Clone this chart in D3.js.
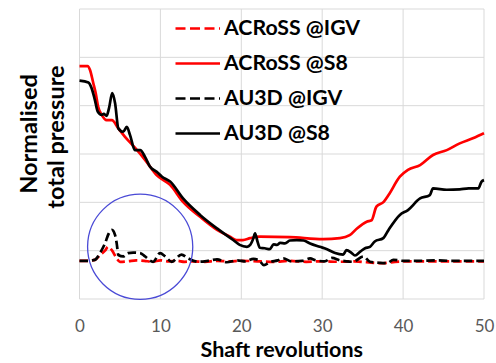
<!DOCTYPE html>
<html>
<head>
<meta charset="utf-8">
<script src="https://cdn.jsdelivr.net/npm/d3@7"></script>
<style>
  html, body { margin: 0; padding: 0; background: #ffffff; }
  svg { display: block; }
</style>
</head>
<body>
<svg id="chart" width="496" height="363"></svg>
<script>
// Shaft revolutions vs normalised total pressure, [revolution, pressure]
const acrossIgv = [[0,0.79],[1.0,0.79],[1.9,0.81],[2.6,0.92],[3.15,1.0],[3.55,1.08],[4.0,1.01],[4.6,0.84],[5.0,0.77],[6.0,0.78],[7.0,0.80],[8.0,0.79],[9.0,0.77],[10.0,0.80],[11.0,0.78],[12.0,0.79],[13.0,0.77],[14.0,0.78],[15.5,0.77],[17.0,0.79],[18.5,0.78],[20.0,0.79],[22.0,0.78],[24.0,0.77],[26.0,0.79],[28.0,0.77],[30.0,0.78],[32.0,0.77],[34.0,0.78],[35.5,0.76],[37.5,0.74],[39.0,0.77],[41.0,0.78],[44.0,0.78],[47.0,0.78],[50.0,0.78]];

const acrossS8 = [[0,4.82],[1.0,4.82],[1.3,4.74],[1.7,4.47],[2.0,4.26],[2.3,3.98],[2.75,3.81],[3.35,3.70],[4.0,3.70],[4.8,3.53],[5.6,3.36],[6.9,3.12],[8.1,2.88],[9.5,2.57],[11.2,2.36],[12.8,2.01],[14.9,1.70],[17.0,1.43],[18.6,1.29],[19.4,1.22],[20.2,1.22],[21.1,1.26],[22.3,1.29],[26.0,1.28],[30.1,1.24],[32.2,1.26],[33.4,1.32],[34.3,1.46],[35.5,1.60],[36.1,1.63],[36.7,1.91],[37.6,2.01],[38.2,2.15],[39.6,2.53],[40.6,2.67],[42.1,2.77],[43.7,2.98],[45.4,3.08],[47.0,3.22],[48.7,3.33],[50.0,3.43]];

const au3dIgv = [[0,0.79],[1.0,0.79],[1.9,0.81],[2.6,0.97],[3.15,1.15],[3.6,1.35],[4.0,1.43],[4.4,1.32],[4.6,1.15],[4.8,0.91],[5.4,0.88],[6.0,0.95],[6.65,0.96],[7.5,0.95],[8.1,0.88],[9.1,0.77],[9.95,0.95],[10.6,0.88],[11.4,0.77],[12.6,0.92],[13.45,0.84],[14.7,0.77],[15.9,0.79],[17.0,0.82],[18.2,0.76],[19.5,0.80],[20.5,0.78],[21.5,0.83],[22.2,0.80],[22.8,0.70],[23.5,0.76],[24.5,0.80],[25.2,0.84],[26.2,0.78],[27.5,0.79],[28.5,0.84],[29.2,0.80],[30.3,0.78],[31.2,0.85],[32.2,0.80],[33.0,0.78],[33.8,0.77],[35.1,0.88],[35.9,0.77],[37.0,0.75],[38.0,0.74],[38.8,0.81],[40.0,0.79],[42.0,0.79],[44.0,0.80],[46.0,0.79],[48.0,0.79],[50.0,0.79]];

const au3dS8 = [[0,4.52],[1.1,4.48],[1.5,4.36],[1.9,4.12],[2.25,3.88],[2.75,3.81],[3.0,3.83],[3.35,3.79],[3.65,3.95],[4.05,4.26],[4.4,4.05],[4.8,3.53],[5.4,3.46],[5.85,3.56],[6.25,3.39],[6.85,3.08],[7.5,3.08],[8.1,2.94],[8.7,2.74],[9.55,2.63],[10.2,2.53],[11.2,2.43],[12.8,2.08],[14.9,1.74],[17.0,1.46],[19.0,1.22],[19.8,1.12],[20.7,1.08],[21.1,1.12],[21.5,1.26],[21.7,1.36],[22.0,1.19],[22.3,1.06],[22.9,1.05],[23.5,1.03],[24.0,1.13],[24.4,1.12],[24.8,1.16],[25.4,1.15],[26.0,1.21],[26.85,1.22],[27.7,1.21],[28.5,1.15],[29.7,1.08],[30.6,1.03],[31.6,0.95],[32.6,0.92],[33.0,1.01],[33.65,0.95],[34.05,0.90],[34.7,0.98],[35.3,1.05],[35.9,1.08],[36.5,1.19],[37.55,1.26],[38.2,1.43],[39.6,1.74],[40.6,1.84],[42.1,2.08],[43.3,2.15],[43.7,2.29],[45.4,2.26],[47.0,2.27],[48.1,2.29],[49.3,2.29],[49.7,2.43],[50.0,2.46]];

const xTicks = [0, 10, 20, 30, 40, 50];
const yGrid = [0, 1, 2, 3, 4, 5, 6];
const seriesNames = ["ACRoSS @IGV", "ACRoSS @S8", "AU3D @IGV", "AU3D @S8"];
const seriesColors = ["#ff0000", "#ff0000", "#000000", "#000000"];
const seriesDashed = [true, false, true, false];
const seriesData = [acrossIgv, acrossS8, au3dIgv, au3dS8];

// Highlighted start-up region (centre in data units, radius in revolutions)
const focusCentre = [7.5, 1.08];
const focusRadiusRev = 6.5;

const svg = d3.select("#chart");
const margin = { left: 79.5, right: 12, top: 9, bottom: 64 };
const W = 496, H = 363;

const x = d3.scaleLinear().domain([0, 50]).range([margin.left, W - margin.right]);
const y = d3.scaleLinear().domain([0, 6]).range([H - margin.bottom, margin.top]);

const font = "Lato, 'Open Sans', sans-serif";
const gridColor = "#d9d9d9";

// Gridlines and frame
const grid = svg.append("g");
grid.selectAll("line.h").data(yGrid).join("line")
  .attr("x1", x(0)).attr("x2", x(50))
  .attr("y1", d => y(d)).attr("y2", d => y(d))
  .attr("stroke", gridColor).attr("stroke-width", 1);
grid.selectAll("line.v").data(xTicks).join("line")
  .attr("x1", d => x(d)).attr("x2", d => x(d))
  .attr("y1", y(0)).attr("y2", y(6))
  .attr("stroke", gridColor).attr("stroke-width", 1);

// X axis labels
const xAxis = d3.axisBottom(x).tickValues(xTicks).tickSize(0).tickPadding(20.5);
const gx = svg.append("g").attr("transform", `translate(0,${y(0)})`).call(xAxis);
gx.select(".domain").remove();
gx.selectAll("text")
  .attr("font-family", font).attr("font-size", 17).attr("fill", "#595959");

// Series lines
const line = d3.line().x(d => x(d[0])).y(d => y(d[1])).curve(d3.curveMonotoneX);
const plot = svg.append("g");
seriesData.forEach((data, i) => {
  plot.append("path")
    .datum(data)
    .attr("d", line)
    .attr("fill", "none")
    .attr("stroke", seriesColors[i])
    .attr("stroke-width", 2.7)
    .attr("stroke-linejoin", "round")
    .attr("stroke-dasharray", seriesDashed[i] ? "8.5,4" : null);
});

// Circle marking the early transient
svg.append("circle")
  .attr("cx", x(focusCentre[0]))
  .attr("cy", y(focusCentre[1]))
  .attr("r", x(focusRadiusRev) - x(0))
  .attr("fill", "none")
  .attr("stroke", "#4a4ad6")
  .attr("stroke-width", 1.3);

// Legend
const legend = svg.append("g").attr("transform", "translate(175.5,28.5)");
const rows = legend.selectAll("g").data(seriesNames).join("g")
  .attr("transform", (d, i) => `translate(0,${i * 35})`);
rows.append("line")
  .attr("x1", 0).attr("x2", 44.5).attr("y1", 0).attr("y2", 0)
  .attr("stroke", (d, i) => seriesColors[i])
  .attr("stroke-width", 2.7)
  .attr("stroke-dasharray", (d, i) => seriesDashed[i] ? "10,4.5" : null);
rows.append("text")
  .attr("x", 48.5).attr("y", 6.8)
  .attr("font-family", font).attr("font-weight", 700).attr("font-size", 21.3)
  .attr("fill", "#000")
  .text(d => d);

// Axis titles
svg.append("text")
  .attr("x", (x(0) + x(50)) / 2).attr("y", 357)
  .attr("text-anchor", "middle")
  .attr("font-family", font).attr("font-weight", 700).attr("font-size", 21.5)
  .attr("fill", "#000")
  .text("Shaft revolutions");

const yTitle = svg.append("g").attr("font-family", font).attr("font-weight", 700)
  .attr("font-size", 23.5).attr("fill", "#000").attr("text-anchor", "middle");
yTitle.append("text")
  .attr("transform", "translate(36.5,134) rotate(-90)")
  .text("Normalised");
yTitle.append("text")
  .attr("transform", "translate(63.5,137) rotate(-90)")
  .text("total pressure");
</script>
</body>
</html>
